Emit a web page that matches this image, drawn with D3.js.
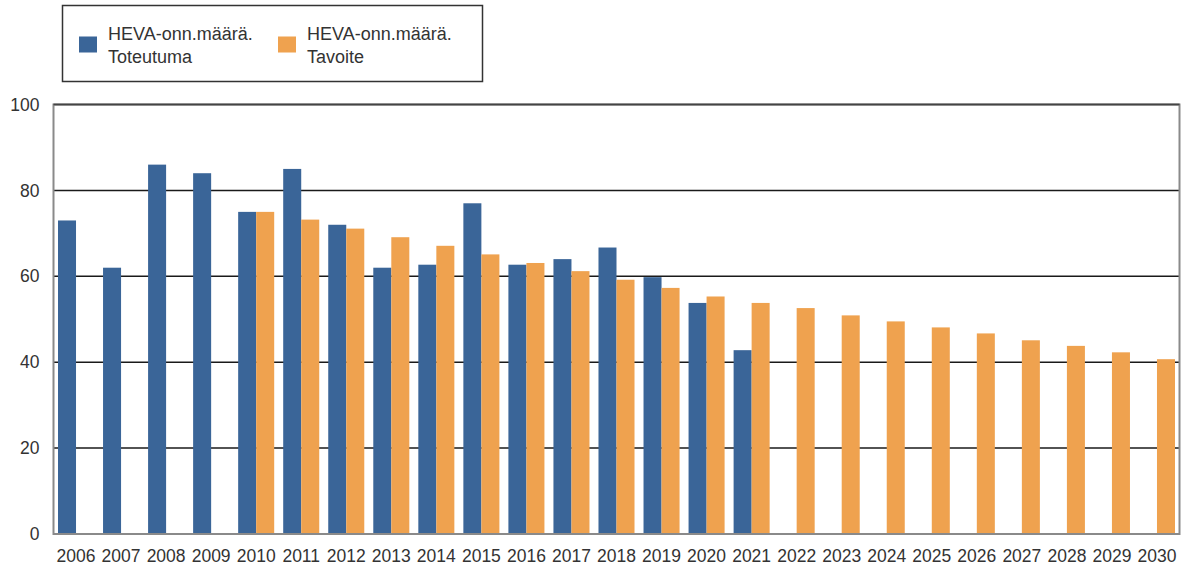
<!DOCTYPE html>
<html lang="fi">
<head>
    <meta charset="UTF-8">
    <title>HEVA-onn.määrä</title>
    <style>
        body { margin: 0; background: #fff; }
        svg { display: block; font-family: "Liberation Sans", Arial, sans-serif; }
        .tick text { fill: #333; }
    </style>
</head>
<body>
    <div id="chart"></div>

    <script src="https://d3js.org/d3.v7.min.js"></script>
    <script>
        // Data
        const years = ['2006','2007','2008','2009','2010','2011','2012','2013','2014','2015','2016','2017',
                       '2018','2019','2020','2021','2022','2023','2024','2025','2026','2027','2028','2029','2030'];
        const toteutuma = [73, 62, 86, 84, 75, 85, 72, 62, 62.7, 77, 62.7, 64,
                           66.7, 59.8, 53.8, 42.8, null, null, null, null, null, null, null, null, null];
        const tavoite = [null, null, null, null, 75, 73.2, 71.1, 69.1, 67.1, 65.1, 63.1, 61.2,
                         59.2, 57.3, 55.3, 53.8, 52.6, 50.9, 49.5, 48.1, 46.7, 45.1, 43.8, 42.3, 40.7];
        const yTicks = [0, 20, 40, 60, 80, 100];
        const seriesNames = ['HEVA-onn.määrä.|Toteutuma', 'HEVA-onn.määrä.|Tavoite'];
        const colors = ['#3a6598', '#efa24f'];

        const W = 1181, H = 568;
        const plot = { left: 53.5, right: 1179.5, top: 104.5, bottom: 534 };

        const svg = d3.select('#chart').append('svg')
            .attr('width', W)
            .attr('height', H);

        const x = d3.scaleBand()
            .domain(years)
            .range([plot.left, plot.right])
            .paddingInner(0)
            .paddingOuter(0);

        const bw = x.bandwidth() * 0.4;

        const y = d3.scaleLinear()
            .domain([0, 100])
            .range([plot.bottom, plot.top]);

        // Gridlines
        svg.append('g')
            .selectAll('line')
            .data(yTicks.filter(d => d > 0))
            .enter()
            .append('line')
            .attr('x1', plot.left)
            .attr('x2', plot.right)
            .attr('y1', d => y(d))
            .attr('y2', d => y(d))
            .attr('stroke', '#1a1a1a')
            .attr('stroke-width', 1.5);

        // Bars
        const series = [toteutuma, tavoite];
        series.forEach((vals, si) => {
            svg.append('g')
                .selectAll('rect')
                .data(years.map((yr, i) => ({ yr, v: vals[i] })).filter(d => d.v != null))
                .enter()
                .append('rect')
                .attr('x', d => x(d.yr) + x.bandwidth() / 2 - bw + si * bw)
                .attr('y', d => y(d.v))
                .attr('width', bw)
                .attr('height', d => y(0) - y(d.v))
                .attr('fill', colors[si]);
        });

        // Plot frame (grey)
        svg.append('rect')
            .attr('x', plot.left)
            .attr('y', plot.top)
            .attr('width', plot.right - plot.left)
            .attr('height', plot.bottom - plot.top)
            .attr('fill', 'none')
            .attr('stroke', '#8a8a8a')
            .attr('stroke-width', 2);

        // top line dark, like the gridlines
        svg.append('line')
            .attr('x1', plot.left).attr('x2', plot.right)
            .attr('y1', plot.top).attr('y2', plot.top)
            .attr('stroke', '#444').attr('stroke-width', 1.5);

        // Axes
        const yAxis = d3.axisLeft(y).tickValues(yTicks).tickSize(0).tickPadding(14);
        svg.append('g')
            .attr('transform', `translate(${plot.left},0)`)
            .call(yAxis)
            .call(g => g.select('.domain').remove())
            .selectAll('text')
            .attr('font-size', 17.5);

        const xAxis = d3.axisBottom(x).tickSize(0).tickPadding(16);
        svg.append('g')
            .attr('transform', `translate(0,${plot.bottom})`)
            .call(xAxis)
            .call(g => g.select('.domain').remove())
            .selectAll('text')
            .attr('font-size', 17.5);

        // Legend
        const legend = svg.append('g');
        legend.append('rect')
            .attr('x', 62.5).attr('y', 5.5)
            .attr('width', 420).attr('height', 76)
            .attr('fill', '#fff')
            .attr('stroke', '#333')
            .attr('stroke-width', 1.5);

        const legendX = [79, 278];
        seriesNames.forEach((name, i) => {
            const g = legend.append('g').attr('transform', `translate(${legendX[i]},0)`);
            g.append('rect')
                .attr('x', 0).attr('y', 36.5)
                .attr('width', 18).attr('height', 16)
                .attr('fill', colors[i]);
            name.split('|').forEach((line, j) => {
                g.append('text')
                    .attr('x', 29)
                    .attr('y', 40 + j * 23)
                    .attr('font-size', 18)
                    .attr('fill', '#333')
                    .text(line);
            });
        });
    </script>
</body>
</html>
